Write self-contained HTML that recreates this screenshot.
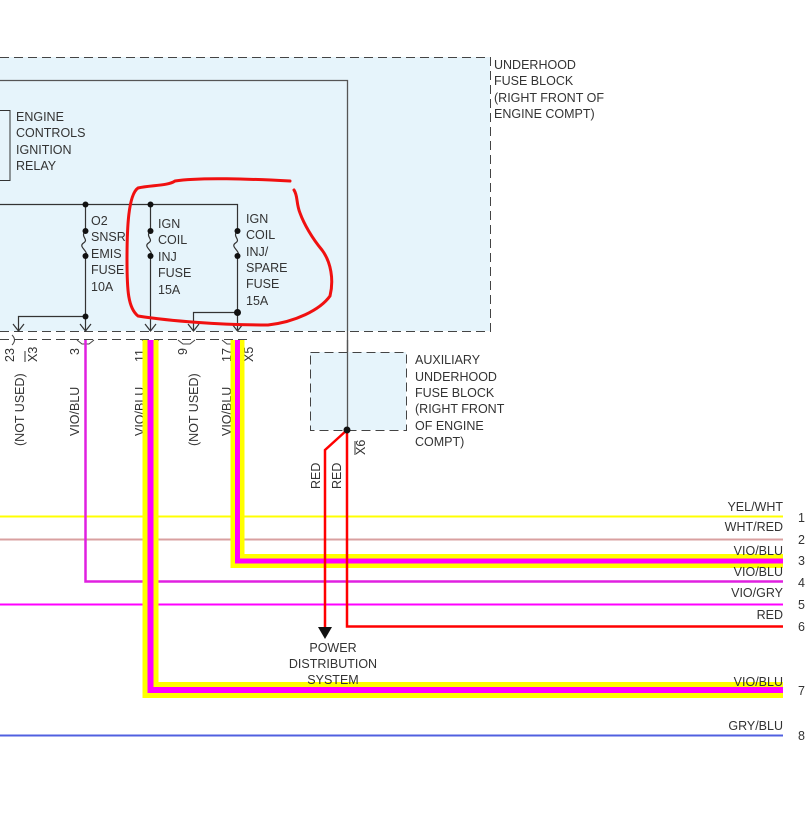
<!DOCTYPE html>
<html><head><meta charset="utf-8"><style>
html,body{margin:0;padding:0;background:#fff;}
svg{display:block;font-family:"Liberation Sans",Arial,sans-serif;}
text{fill:#333;font-size:12.5px;}
</style></head><body>
<svg width="806" height="835" viewBox="0 0 806 835" xmlns="http://www.w3.org/2000/svg">
<!-- main fuse block -->
<rect x="-2" y="57" width="492" height="274" fill="#e6f4fb"/>
<path d="M0 57.5H490.5V331.5H0" fill="none" stroke="#444" stroke-dasharray="9,5"/>
<path d="M0 80.5H347.5V430" fill="none" stroke="#555" stroke-width="1.3"/>
<rect x="-2" y="110.5" width="12" height="70" fill="none" stroke="#333"/>
<text x="16" y="121">ENGINE</text><text x="16" y="137">CONTROLS</text><text x="16" y="154">IGNITION</text><text x="16" y="170">RELAY</text>
<text x="494" y="69">UNDERHOOD</text><text x="494" y="85">FUSE BLOCK</text><text x="494" y="102">(RIGHT FRONT OF</text><text x="494" y="118">ENGINE COMPT)</text>
<!-- bus -->
<g stroke="#333" stroke-width="1.2" fill="none">
<path d="M0 204.5H237.5V231"/>
<path d="M85.5 204V231M85.5 256V330"/>
<path d="M150.5 204V231M150.5 256V330"/>
<path d="M237.5 256V330"/>
<path d="M85.5 231c-6 6 4 8-2 12s6 8 2 13"/>
<path d="M150.5 231c-6 6 4 8-2 12s6 8 2 13"/>
<path d="M237.5 231c-6 6 4 8-2 12s6 8 2 13"/>
<path d="M85.5 316.5H18.5V330M237.5 312.5H193.5V330"/>
<path d="M13 324l5.5 7l5.5-7M80 324l5.5 7l5.5-7M145 324l5.5 7l5.5-7M188 324l5.5 7l5.5-7M232 324l5.5 7l5.5-7"/>
</g>
<g fill="#111">
<circle cx="85.5" cy="204.5" r="3"/><circle cx="150.5" cy="204.5" r="3"/>
<circle cx="85.5" cy="231" r="3"/><circle cx="85.5" cy="256" r="3"/>
<circle cx="150.5" cy="231" r="3"/><circle cx="150.5" cy="256" r="3"/>
<circle cx="237.5" cy="231" r="3"/><circle cx="237.5" cy="256" r="3"/>
<circle cx="85.5" cy="316.5" r="3"/><circle cx="237.5" cy="312.5" r="3.5"/>
</g>
<text x="91" y="225">O2</text><text x="91" y="241">SNSR</text><text x="91" y="258">EMIS</text><text x="91" y="274">FUSE</text><text x="91" y="291">10A</text>
<text x="158" y="228">IGN</text><text x="158" y="244">COIL</text><text x="158" y="261">INJ</text><text x="158" y="277">FUSE</text><text x="158" y="294">15A</text>
<text x="246" y="223">IGN</text><text x="246" y="239">COIL</text><text x="246" y="256">INJ/</text><text x="246" y="272">SPARE</text><text x="246" y="288">FUSE</text><text x="246" y="305">15A</text>
<!-- connector row -->
<path d="M0 339.5H250" stroke="#444" stroke-dasharray="9,5" fill="none"/>
<g stroke="#444" fill="none"><path d="M12 335q5 5 0 10M77 340l5 4h7l5-4M142 340l5 4h7l5-4M178 340l5 4h7l5-4M222 340l5 4h7l5-4"/></g>
<g font-size="12">
<text transform="translate(14,362) rotate(-90)">23</text>
<text transform="translate(37,362) rotate(-90)">X3</text>
<text transform="translate(79,355) rotate(-90)">3</text>
<text transform="translate(144,362) rotate(-90)">11</text>
<text transform="translate(187,355) rotate(-90)">9</text>
<text transform="translate(231,362) rotate(-90)">17</text>
<text transform="translate(253,362) rotate(-90)">X5</text>
<text transform="translate(24,446) rotate(-90)">(NOT USED)</text>
<text transform="translate(79,436) rotate(-90)">VIO/BLU</text>
<text transform="translate(144,436) rotate(-90)">VIO/BLU</text>
<text transform="translate(198,446) rotate(-90)">(NOT USED)</text>
<text transform="translate(231,436) rotate(-90)">VIO/BLU</text>
<text transform="translate(320,489) rotate(-90)">RED</text>
<text transform="translate(341,489) rotate(-90)">RED</text>
<text transform="translate(365,455) rotate(-90)">X6</text>
</g>
<path d="M25 351v11M243 351v11M355 441v14" stroke="#333"/>
<!-- aux block -->
<rect x="310" y="352" width="96" height="78" fill="#e6f4fb"/>
<rect x="310.5" y="352.5" width="96" height="78" fill="none" stroke="#444" stroke-dasharray="9,5"/>
<path d="M347.5 340V430" stroke="#555" stroke-width="1.3"/>
<text x="415" y="364">AUXILIARY</text><text x="415" y="381">UNDERHOOD</text><text x="415" y="397">FUSE BLOCK</text><text x="415" y="413">(RIGHT FRONT</text><text x="415" y="430">OF ENGINE</text><text x="415" y="446">COMPT)</text>
<!-- harness lines -->
<path d="M0 516.5H783" stroke="#ffff00" stroke-width="2"/>
<path d="M0 539.5H783" stroke="#d9a0a0" stroke-width="2"/>
<path d="M0 604.5H783" stroke="#ff00ff" stroke-width="2"/>
<path d="M0 735.5H783" stroke="#5060e0" stroke-width="2"/>
<path d="M85.5 340V581.5H783" fill="none" stroke="#e020e0" stroke-width="2.5"/>
<path d="M237.5 340V561H783" fill="none" stroke="#ffff00" stroke-width="14"/>
<path d="M237.5 340V561H783" fill="none" stroke="#ff00ff" stroke-width="5"/>
<path d="M150.5 340V690H783" fill="none" stroke="#ffff00" stroke-width="16"/>
<path d="M150.5 340V690H783" fill="none" stroke="#ff00ff" stroke-width="6"/>
<!-- red -->
<path d="M347 430V626.5H783" fill="none" stroke="#ff0000" stroke-width="2.5"/>
<path d="M347 430L325 450V628" fill="none" stroke="#ff0000" stroke-width="2.5"/>
<path d="M318 627h14l-7 12z" fill="#111"/>
<circle cx="347" cy="430" r="3.5" fill="#111"/>
<text x="333" y="652" text-anchor="middle">POWER</text>
<text x="333" y="668" text-anchor="middle">DISTRIBUTION</text>
<text x="333" y="684" text-anchor="middle">SYSTEM</text>
<!-- right labels -->
<g text-anchor="end">
<text x="783" y="511">YEL/WHT</text><text x="783" y="531">WHT/RED</text><text x="783" y="555">VIO/BLU</text><text x="783" y="576">VIO/BLU</text><text x="783" y="597">VIO/GRY</text><text x="783" y="619">RED</text><text x="783" y="686">VIO/BLU</text><text x="783" y="730">GRY/BLU</text>
</g>
<g><text x="798" y="522">1</text><text x="798" y="544">2</text><text x="798" y="565">3</text><text x="798" y="587">4</text><text x="798" y="609">5</text><text x="798" y="631">6</text><text x="798" y="695">7</text><text x="798" y="740">8</text></g>
<!-- annotation -->
<path d="M290 181C250 179 200 177 175 181C168 186 150 185 138 188C128 195 127 230 127 260C127 290 128 308 138 316C170 321 220 325 268 325C295 322 320 310 330 296C334 280 331 262 322 250C312 238 304 224 300 213C296 203 298 196 294 190" fill="none" stroke="#f01010" stroke-width="3" stroke-linecap="round"/>
</svg>
</body></html>
